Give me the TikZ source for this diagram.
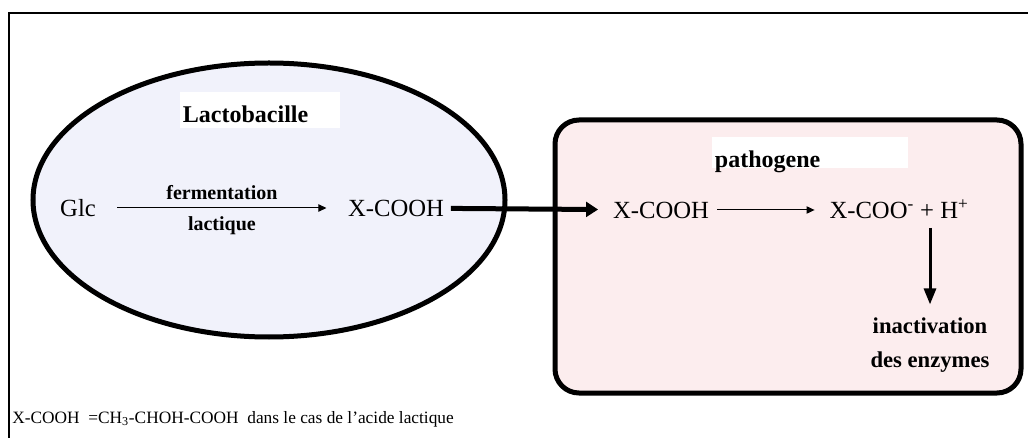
\documentclass[tikz,border=0pt]{standalone}
\usepackage{fontspec}
\setmainfont{Liberation Serif}
\usepackage{xcolor}
\usetikzlibrary{positioning,shapes.geometric,arrows.meta,calc}

\definecolor{cellblue}{RGB}{241,242,251}
\definecolor{hostpink}{RGB}{252,237,238}

\begin{document}
\begin{tikzpicture}[
  x=0.75pt, y=-0.75pt,
  chem/.style  ={font=\fontsize{18.5}{22}\selectfont, inner sep=0pt,
                 text height=12.5pt, text depth=0pt},
  lbl/.style   ={font=\bfseries\fontsize{15}{17}\selectfont, inner sep=1pt},
  title/.style ={fill=white, font=\bfseries\fontsize{18}{22}\selectfont,
                 anchor=base west, inner xsep=2pt, inner ysep=0pt,
                 text height=23pt, align=left},
  cell/.style  ={draw, line width=3.75pt, ellipse, fill=cellblue,
                 minimum width=354pt, minimum height=205.5pt},
  host/.style  ={draw, line width=3.75pt, rounded corners=18pt, fill=hostpink,
                 minimum width=349.5pt, minimum height=204.75pt},
  arr/.style   ={-{Triangle[length=6pt,width=5.5pt]}, line width=0.75pt},
  bigarr/.style={-{Triangle[length=9pt,width=11pt]}, line width=3.75pt},
  downarr/.style={-{Triangle[length=12pt,width=9pt]}, line width=2.25pt}
]
\useasboundingbox (0,0) rectangle (1028,438);

%% ---- Frame -------------------------------------------------------
\draw[line width=1.8pt] (9,438) -- (9,13) -- (1028,13);

%% ---- Lactobacille ------------------------------------------------
\node[cell] (lacto) at (269,200) {};
\node[title, text width=116pt, text depth=3.75pt] (lactolbl) at (180,123)
     {Lactobacille};

\node[chem] (glc)   at (78,208)  {Glc};
\node[chem] (xcooh) at (396,208) {X-COOH};
\draw[arr, shorten <=16pt, shorten >=16pt] (glc) --
      node[lbl, above=5pt]{fermentation}
      node[lbl, below=5pt]{lactique} (xcooh);

%% ---- Pathogene ---------------------------------------------------
\node[host] (patho) at (788,256.5) {};
\node[title, text width=143pt, text depth=0pt] (patholbl) at (712,168)
     {pathogene};

\node[chem] (xin)  at (661,210) {X-COOH};
\node[chem] (xout) at (899,210) {X-COO\textsuperscript{-} + H\textsuperscript{+}};
\node[lbl, font=\bfseries\fontsize{17}{25}\selectfont, align=center]
     (enz) at (930,345) {inactivation\\des enzymes};

%% ---- Arrows ------------------------------------------------------
\draw[bigarr, shorten <=5pt, shorten >=11pt] (xcooh) -- (xin);
\draw[arr, shorten <=6pt, shorten >=11pt] (xin) -- (xout);
\draw[downarr, shorten <=7pt, shorten >=9pt] (xout.south -| enz.north) -- (enz.north);

%% ---- Note --------------------------------------------------------
\node[anchor=base west, inner sep=0pt, font=\fontsize{13}{15}\selectfont]
     (note) at (12,423)
     {X-COOH \ =CH\textsubscript{3}-CHOH-COOH \ dans le cas de l'acide lactique};

\end{tikzpicture}
\end{document}
